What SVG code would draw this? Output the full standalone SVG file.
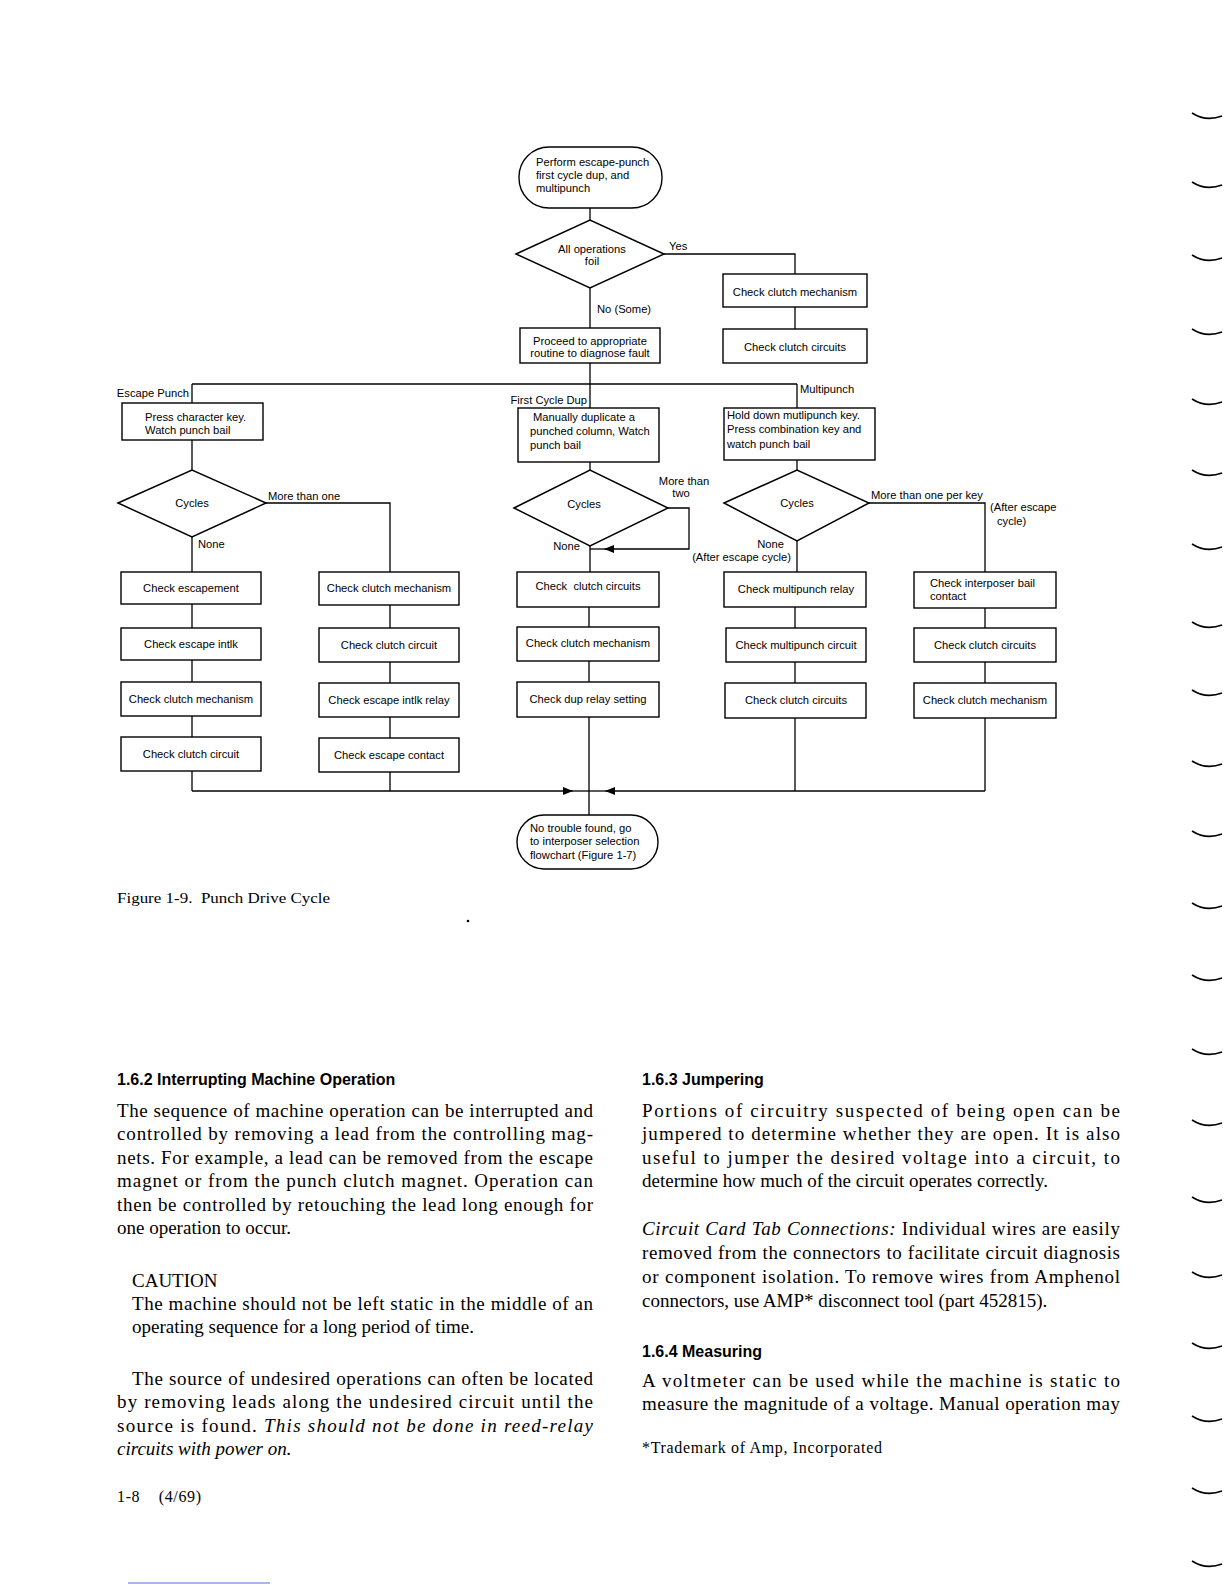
<svg xmlns="http://www.w3.org/2000/svg" width="1225" height="1585" viewBox="0 0 1225 1585">
<style>
.bx{fill:#fff;stroke:#000;stroke-width:1.4}
.dm{fill:#fff;stroke:#000;stroke-width:1.5}
.c{fill:none;stroke:#000;stroke-width:1.3}
.t{font-family:"Liberation Sans","DejaVu Sans",sans-serif;font-size:11.2px;fill:#000}
.m{text-anchor:middle}
.e{text-anchor:end}
.p{font-family:"Liberation Serif","Times New Roman",serif;font-size:19px;fill:#000}
.h{font-family:"Liberation Sans",Arial,sans-serif;font-size:16px;font-weight:bold;fill:#000}
.i{font-style:italic}
.pre{white-space:pre}
.mk{fill:none;stroke:#000;stroke-width:1.6}
</style>
<defs>
<marker id="ah" viewBox="0 0 10 8" refX="10" refY="4" markerWidth="10" markerHeight="8" markerUnits="userSpaceOnUse" orient="auto">
<path d="M0,0 L10,4 L0,8 Z" fill="#000"/>
</marker>
</defs>
<rect width="1225" height="1585" fill="#fff"/>

<g id="connectors">
<path class="c" d="M590,208 V220"/>
<path class="c" d="M664,254 H795 V274"/>
<path class="c" d="M795,307 V329"/>
<path class="c" d="M590,288 V328"/>
<path class="c" d="M590,363 V384"/>
<path class="c" d="M192,384 H797"/>
<path class="c" d="M192,384 V403"/>
<path class="c" d="M590,384 V408"/>
<path class="c" d="M797,384 V408"/>
<path class="c" d="M192,440 V470"/>
<path class="c" d="M266,503 H390 V572"/>
<path class="c" d="M192,537 V572"/>
<path class="c" d="M192,604 V628 M192,660 V682 M192,716 V737 M192,771 V791"/>
<path class="c" d="M390,605 V628 M390,662 V683 M390,717 V738 M390,772 V791"/>
<path class="c" d="M590,462 V470"/>
<path class="c" d="M668,508 H689 V549 H604" marker-end="url(#ah)"/>
<path class="c" d="M604,549 H590"/>
<path class="c" d="M590,546 V572"/>
<path class="c" d="M589,607 V627 M589,661 V682 M589,717 V815"/>
<path class="c" d="M797,460 V470"/>
<path class="c" d="M869,503 H985 V572"/>
<path class="c" d="M797,541 V572"/>
<path class="c" d="M795,607 V628 M795,662 V683 M795,718 V791"/>
<path class="c" d="M985,608 V628 M985,662 V683 M985,718 V791"/>
<path class="c" d="M192,791 H573" marker-end="url(#ah)"/>
<path class="c" d="M573,791 H589"/>
<path class="c" d="M985,791 H605" marker-end="url(#ah)"/>
<path class="c" d="M605,791 H589"/>
</g>

<g id="start">
<rect class="bx" x="519" y="147" width="143" height="61" rx="30" ry="30"/>
<text class="t" x="536" y="166">Perform escape-punch</text>
<text class="t" x="536" y="179">first cycle dup, and</text>
<text class="t" x="536" y="192">multipunch</text>
</g>
<g id="d-all">
<polygon class="dm" points="516,254 590,220 664,254 590,288"/>
<text class="t m" x="592" y="253">All operations</text>
<text class="t m" x="592" y="265">foil</text>
</g>
<g id="lbl-top">
<text class="t" x="669" y="250">Yes</text>
<text class="t" x="597" y="313">No (Some)</text>
</g>
<g id="b-top-ccm">
<rect class="bx" x="723" y="274" width="144" height="33"/>
<text class="t m" x="795" y="296">Check clutch mechanism</text>
</g>
<g id="b-top-ccc">
<rect class="bx" x="723" y="329" width="144" height="34"/>
<text class="t m" x="795" y="351">Check clutch circuits</text>
</g>
<g id="b-proceed">
<rect class="bx" x="520" y="328" width="140" height="35"/>
<text class="t m" x="590" y="345">Proceed to appropriate</text>
<text class="t m" x="590" y="357">routine to diagnose fault</text>
</g>

<g id="lbl-branches">
<text class="t e" x="189" y="397">Escape Punch</text>
<text class="t e" x="587" y="404">First Cycle Dup</text>
<text class="t" x="800" y="393">Multipunch</text>
</g>

<g id="b-press">
<rect class="bx" x="122" y="403" width="141" height="37"/>
<text class="t" x="145" y="421">Press character key.</text>
<text class="t" x="145" y="434">Watch punch bail</text>
</g>
<g id="d-esc">
<polygon class="dm" points="118,503 192,470 266,503 192,537"/>
<text class="t m" x="192" y="507">Cycles</text>
</g>
<g id="lbl-esc">
<text class="t" x="268" y="500">More than one</text>
<text class="t" x="198" y="548">None</text>
</g>
<g id="b-c1-1"><rect class="bx" x="121" y="572" width="140" height="32"/><text class="t m" x="191" y="592">Check escapement</text></g>
<g id="b-c1-2"><rect class="bx" x="121" y="628" width="140" height="32"/><text class="t m" x="191" y="648">Check escape intlk</text></g>
<g id="b-c1-3"><rect class="bx" x="121" y="682" width="140" height="34"/><text class="t m" x="191" y="703">Check clutch mechanism</text></g>
<g id="b-c1-4"><rect class="bx" x="121" y="737" width="140" height="34"/><text class="t m" x="191" y="758">Check clutch circuit</text></g>
<g id="b-c2-1"><rect class="bx" x="319" y="572" width="140" height="33"/><text class="t m" x="389" y="592">Check clutch mechanism</text></g>
<g id="b-c2-2"><rect class="bx" x="319" y="628" width="140" height="34"/><text class="t m" x="389" y="649">Check clutch circuit</text></g>
<g id="b-c2-3"><rect class="bx" x="319" y="683" width="140" height="34"/><text class="t m" x="389" y="704">Check escape intlk relay</text></g>
<g id="b-c2-4"><rect class="bx" x="319" y="738" width="140" height="34"/><text class="t m" x="389" y="759">Check escape contact</text></g>

<g id="b-manual">
<rect class="bx" x="518" y="408" width="141" height="54"/>
<text class="t" x="533" y="421">Manually duplicate a</text>
<text class="t" x="530" y="435">punched column, Watch</text>
<text class="t" x="530" y="449">punch bail</text>
</g>
<g id="d-dup">
<polygon class="dm" points="514,508 590,470 668,508 590,546"/>
<text class="t m" x="584" y="508">Cycles</text>
</g>
<g id="lbl-dup">
<text class="t m" x="684" y="485">More than</text>
<text class="t m" x="681" y="497">two</text>
<text class="t e" x="580" y="550">None</text>
</g>
<g id="b-m-1"><rect class="bx" x="517" y="572" width="142" height="35"/><text class="t m pre" x="588" y="590">Check  clutch circuits</text></g>
<g id="b-m-2"><rect class="bx" x="517" y="627" width="142" height="34"/><text class="t m" x="588" y="647">Check clutch mechanism</text></g>
<g id="b-m-3"><rect class="bx" x="517" y="682" width="142" height="35"/><text class="t m" x="588" y="703">Check dup relay setting</text></g>

<g id="b-hold">
<rect class="bx" x="724" y="408" width="151" height="52"/>
<text class="t" x="727" y="419">Hold down mutlipunch key.</text>
<text class="t" x="727" y="433">Press combination key and</text>
<text class="t" x="727" y="448">watch punch bail</text>
</g>
<g id="d-multi">
<polygon class="dm" points="724,503 797,470 869,503 797,541"/>
<text class="t m" x="797" y="507">Cycles</text>
</g>
<g id="lbl-multi">
<text class="t" x="871" y="499">More than one per key</text>
<text class="t" x="990" y="511">(After escape</text>
<text class="t" x="997" y="525">cycle)</text>
<text class="t e" x="784" y="548">None</text>
<text class="t e" x="791" y="561">(After escape cycle)</text>
</g>
<g id="b-r1-1"><rect class="bx" x="724" y="572" width="142" height="35"/><text class="t m" x="796" y="593">Check multipunch relay</text></g>
<g id="b-r1-2"><rect class="bx" x="726" y="628" width="140" height="34"/><text class="t m" x="796" y="649">Check multipunch circuit</text></g>
<g id="b-r1-3"><rect class="bx" x="725" y="683" width="141" height="35"/><text class="t m" x="796" y="704">Check clutch circuits</text></g>
<g id="b-r2-1">
<rect class="bx" x="914" y="572" width="142" height="36"/>
<text class="t" x="930" y="587">Check interposer bail</text>
<text class="t" x="930" y="600">contact</text>
</g>
<g id="b-r2-2"><rect class="bx" x="914" y="628" width="142" height="34"/><text class="t m" x="985" y="649">Check clutch circuits</text></g>
<g id="b-r2-3"><rect class="bx" x="914" y="683" width="142" height="35"/><text class="t m" x="985" y="704">Check clutch mechanism</text></g>

<g id="end">
<rect class="bx" x="517" y="815" width="141" height="54" rx="27" ry="27"/>
<text class="t" x="530" y="832">No trouble found, go</text>
<text class="t" x="530" y="845">to interposer selection</text>
<text class="t" x="530" y="859">flowchart (Figure 1-7)</text>
</g>

<g id="caption">
<text class="pre" font-family="Liberation Serif,serif" font-size="15.5" x="117" y="903" textLength="213" lengthAdjust="spacingAndGlyphs">Figure 1-9.  Punch Drive Cycle</text>
<circle cx="468" cy="921" r="1.3" fill="#000"/>
</g>

<g id="text-left">
<text class="h" x="117" y="1085">1.6.2 Interrupting Machine Operation</text>
<text class="p" x="117" y="1117" textLength="476" lengthAdjust="spacing">The sequence of machine operation can be interrupted and</text>
<text class="p" x="117" y="1140" textLength="476" lengthAdjust="spacing">controlled by removing a lead from the controlling mag-</text>
<text class="p" x="117" y="1164" textLength="476" lengthAdjust="spacing">nets. For example, a lead can be removed from the escape</text>
<text class="p" x="117" y="1187" textLength="476" lengthAdjust="spacing">magnet or from the punch clutch magnet. Operation can</text>
<text class="p" x="117" y="1211" textLength="476" lengthAdjust="spacing">then be controlled by retouching the lead long enough for</text>
<text class="p" x="117" y="1234">one operation to occur.</text>
<text class="p" x="132" y="1287">CAUTION</text>
<text class="p" x="132" y="1310" textLength="461" lengthAdjust="spacing">The machine should not be left static in the middle of an</text>
<text class="p" x="132" y="1333">operating sequence for a long period of time.</text>
<text class="p" x="132" y="1385" textLength="461" lengthAdjust="spacing">The source of undesired operations can often be located</text>
<text class="p" x="117" y="1408" textLength="476" lengthAdjust="spacing">by removing leads along the undesired circuit until the</text>
<text class="p" x="117" y="1432" textLength="476" lengthAdjust="spacing">source is found. <tspan class="i">This should not be done in reed-relay</tspan></text>
<text class="p i" x="117" y="1455">circuits with power on.</text>
<text class="pre" font-family="Liberation Serif,serif" font-size="16" x="117" y="1502" textLength="84" lengthAdjust="spacing">1-8    (4/69)</text>
</g>

<g id="text-right">
<text class="h" x="642" y="1085">1.6.3 Jumpering</text>
<text class="p" x="642" y="1117" textLength="478" lengthAdjust="spacing">Portions of circuitry suspected of being open can be</text>
<text class="p" x="642" y="1140" textLength="478" lengthAdjust="spacing">jumpered to determine whether they are open. It is also</text>
<text class="p" x="642" y="1164" textLength="478" lengthAdjust="spacing">useful to jumper the desired voltage into a circuit, to</text>
<text class="p" x="642" y="1187">determine how much of the circuit operates correctly.</text>
<text class="p" x="642" y="1235" textLength="478" lengthAdjust="spacing"><tspan class="i">Circuit Card Tab Connections:</tspan> Individual wires are easily</text>
<text class="p" x="642" y="1259" textLength="478" lengthAdjust="spacing">removed from the connectors to facilitate circuit diagnosis</text>
<text class="p" x="642" y="1283" textLength="478" lengthAdjust="spacing">or component isolation. To remove wires from Amphenol</text>
<text class="p" x="642" y="1307">connectors, use AMP* disconnect tool (part 452815).</text>
<text class="h" x="642" y="1357">1.6.4 Measuring</text>
<text class="p" x="642" y="1387" textLength="478" lengthAdjust="spacing">A voltmeter can be used while the machine is static to</text>
<text class="p" x="642" y="1410" textLength="478" lengthAdjust="spacing">measure the magnitude of a voltage. Manual operation may</text>
<text font-family="Liberation Serif,serif" font-size="16" x="642" y="1453" textLength="240" lengthAdjust="spacing">*Trademark of Amp, Incorporated</text>
</g>

<g id="binder-marks">
<path class="mk" d="M1192,113 Q1206,122 1222,116"/>
<path class="mk" d="M1192,182 Q1206,191 1222,185"/>
<path class="mk" d="M1192,255 Q1206,264 1222,258"/>
<path class="mk" d="M1192,329 Q1206,338 1222,332"/>
<path class="mk" d="M1192,399 Q1206,408 1222,402"/>
<path class="mk" d="M1192,470 Q1206,479 1222,473"/>
<path class="mk" d="M1192,544 Q1206,553 1222,547"/>
<path class="mk" d="M1192,622 Q1206,631 1222,625"/>
<path class="mk" d="M1192,690 Q1206,699 1222,693"/>
<path class="mk" d="M1192,761 Q1206,770 1222,764"/>
<path class="mk" d="M1192,831 Q1206,840 1222,834"/>
<path class="mk" d="M1192,903 Q1206,912 1222,906"/>
<path class="mk" d="M1192,975 Q1206,984 1222,978"/>
<path class="mk" d="M1192,1049 Q1206,1058 1222,1052"/>
<path class="mk" d="M1192,1120 Q1206,1129 1222,1123"/>
<path class="mk" d="M1192,1197 Q1206,1206 1222,1200"/>
<path class="mk" d="M1192,1272 Q1206,1281 1222,1275"/>
<path class="mk" d="M1192,1343 Q1206,1352 1222,1346"/>
<path class="mk" d="M1192,1416 Q1206,1425 1222,1419"/>
<path class="mk" d="M1192,1488 Q1206,1497 1222,1491"/>
<path class="mk" d="M1192,1561 Q1206,1570 1222,1564"/>
<line x1="128" y1="1583" x2="270" y2="1583" stroke="#4a6fd6" stroke-width="1"/>
</g>
</svg>
